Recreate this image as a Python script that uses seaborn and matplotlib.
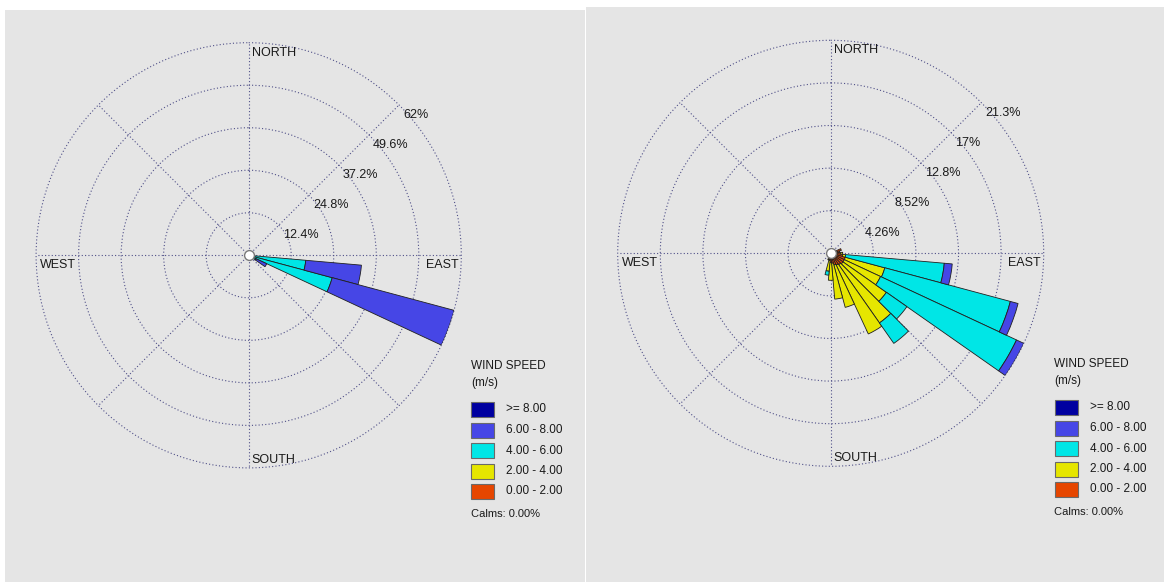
import numpy as np
import matplotlib
matplotlib.use("Agg")
import matplotlib.pyplot as plt
import seaborn as sns
from matplotlib.patches import Rectangle

# ---- data -------------------------------------------------------------
speed_labels = [">= 8.00", "6.00 - 8.00", "4.00 - 6.00", "2.00 - 4.00", "0.00 - 2.00"]
speed_colors = ["#0000a0", "#4646e6", "#00e6e6", "#e6e600", "#e64600"]

# left rose (compass direction of each 10 deg sector, % per speed class)
left_dirs = [100, 110, 120]
left_0_2 = [0.2, 0.2, 0.2]
left_2_4 = [0.8, 0.8, 0.6]
left_4_6 = [15.7, 24.2, 1.6]
left_6_8 = [16.3, 36.8, 3.4]
left_8_up = [0.0, 0.0, 0.0]
left_rmax = 62.0
left_ring_labels = ["12.4%", "24.8%", "37.2%", "49.6%", "62%"]

# right rose
right_dirs = [60, 70, 80, 90, 100, 110, 120, 130, 140, 150, 160, 170, 180, 190, 200]
right_0_2 = [0.3, 1.1, 0.9, 1.0, 1.2, 1.5, 1.5, 1.5, 1.4, 1.3, 1.2, 1.0, 0.9, 0.7, 0.4]
right_2_4 = [0.0, 0.0, 0.0, 0.2, 0.3, 4.1, 4.0, 5.3, 7.1, 7.6, 4.4, 3.6, 1.8, 1.1, 0.3]
right_4_6 = [0.0, 0.0, 0.0, 0.0, 9.9, 13.0, 15.0, 2.5, 2.5, 0.0, 0.0, 0.0, 0.0, 0.4, 0.0]
right_6_8 = [0.0, 0.0, 0.0, 0.0, 0.8, 0.8, 0.8, 0.0, 0.0, 0.0, 0.0, 0.0, 0.0, 0.0, 0.0]
right_8_up = [0.0] * 15
right_rmax = 21.3
right_ring_labels = ["4.26%", "8.52%", "12.8%", "17%", "21.3%"]

calms_text = "Calms: 0.00%"

# ---- style ------------------------------------------------------------
sns.set_theme(style="white")
plt.rcParams["font.family"] = ["Liberation Sans", "DejaVu Sans"]

W, H = 1164, 582
fig = plt.figure(figsize=(W / 100, H / 100), dpi=100)
fig.patch.set_facecolor("white")

PANEL = "#e5e5e5"
GRID = "#505088"
TEXT = "#1a1a1a"


def px_rect(x0, y0, w, h):
    # pixel box (top-left origin) -> figure fraction
    return [x0 / W, (H - y0 - h) / H, w / W, h / H]


def draw_rose(cx, cy, radius, dirs, classes, rmax, ring_labels):
    ax = fig.add_axes(px_rect(cx - radius, cy - radius, 2 * radius, 2 * radius),
                      projection="polar")
    ax.set_zorder(2)
    ax.set_facecolor("none")
    ax.set_theta_zero_location("N")
    ax.set_theta_direction(-1)
    ax.set_ylim(0, rmax)
    ax.spines["polar"].set_visible(False)

    rings = np.linspace(rmax / 5, rmax, 5)
    ax.set_yticks(rings)
    ax.set_yticklabels([])
    ax.set_xticks(np.radians(np.arange(0, 360, 45)))
    ax.set_xticklabels([])
    ax.grid(True, color=GRID, linestyle=(0, (1, 2)), linewidth=0.8)
    for gl in ax.yaxis.get_gridlines():
        gl.set_clip_on(False)

    theta = np.radians(dirs)
    width = np.radians(10)
    bottom = np.zeros(len(dirs))
    # stack from slow (inner) to fast (outer)
    for vals, color in zip(classes[::-1], speed_colors[::-1]):
        vals = np.asarray(vals, dtype=float)
        m = vals > 0
        if m.any():
            ax.bar(theta[m], vals[m], width=width, bottom=bottom[m], color=color,
                   edgecolor="#202020", linewidth=0.6, align="center", zorder=3)
        bottom += vals

    ax.scatter([0], [0], s=50, facecolor="white", edgecolor="#7a7a7a",
               linewidth=1.0, zorder=5, clip_on=False)

    for r, lab in zip(rings, ring_labels):
        ax.annotate(lab, xy=(np.pi / 4, r), xytext=(4, -10), textcoords="offset pixels",
                    ha="left", va="center", fontsize=9, color=TEXT, annotation_clip=False)

    compass = [("NORTH", 0, (3, -10), "left"), ("EAST", np.pi / 2, (-3, -10), "right"),
               ("SOUTH", np.pi, (3, 8), "left"), ("WEST", 3 * np.pi / 2, (4, -10), "left")]
    for lab, th, off, ha in compass:
        ax.annotate(lab, xy=(th, rmax), xytext=off, textcoords="offset pixels",
                    ha=ha, va="center", fontsize=9, color=TEXT, annotation_clip=False)
    return ax


def draw_legend(x0, y0):
    fig.text(x0 / W, 1 - (y0 + 366) / H, "WIND SPEED", ha="left", va="center",
             fontsize=8.5, color=TEXT)
    fig.text(x0 / W, 1 - (y0 + 383) / H, "(m/s)", ha="left", va="center",
             fontsize=8.5, color=TEXT)
    for i, (lab, col) in enumerate(zip(speed_labels, speed_colors)):
        top = y0 + 402 + i * 20.5
        fig.patches.append(Rectangle(((x0) / W, 1 - (top + 15) / H), 23 / W, 15 / H,
                                     transform=fig.transFigure, facecolor=col,
                                     edgecolor="#6a6a6a", linewidth=0.8, zorder=3))
        fig.text((x0 + 35.5) / W, 1 - (top + 7.5) / H, lab, ha="left", va="center",
                 fontsize=8.5, color=TEXT)
    fig.text(x0 / W, 1 - (y0 + 514) / H, calms_text, ha="left", va="center",
             fontsize=8, color=TEXT)


# gray panels (kept behind the roses)
fig.patches.append(Rectangle(px_rect(5, 10, 580, 572)[:2], 580 / W, 572 / H,
                             transform=fig.transFigure, facecolor=PANEL,
                             edgecolor="none", zorder=-5))
fig.patches.append(Rectangle(px_rect(586, 7, 578, 575)[:2], 578 / W, 575 / H,
                             transform=fig.transFigure, facecolor=PANEL,
                             edgecolor="none", zorder=-5))

draw_rose(248.7, 255.3, 212.6, left_dirs,
          [left_8_up, left_6_8, left_4_6, left_2_4, left_0_2], left_rmax, left_ring_labels)
draw_rose(830.7, 253.3, 213.0, right_dirs,
          [right_8_up, right_6_8, right_4_6, right_2_4, right_0_2], right_rmax, right_ring_labels)

draw_legend(471, 0)
draw_legend(1054.5, -2)

fig.savefig("out.png", dpi=100, facecolor=fig.get_facecolor())
plt.close(fig)
